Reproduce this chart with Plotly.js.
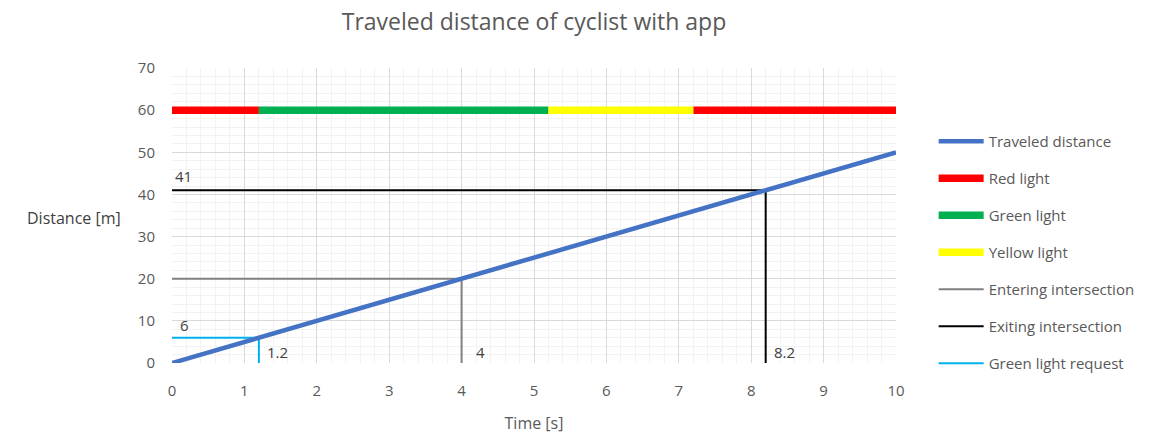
<!DOCTYPE html>
<html><head><meta charset="utf-8">
<script src="https://cdn.plot.ly/plotly-3.0.1.min.js"></script>
<style>body{margin:0;background:#fff}#chart{width:1164px;height:435px}</style>
</head><body><div id="chart"></div>
<script>
const timeTravel = [0, 10];
const distTravel = [0, 50];
const redX = [0, 1.2, null, 7.2, 10];
const redY = [60, 60, null, 60, 60];
const greenX = [1.2, 5.2];
const greenY = [60, 60];
const yellowX = [5.2, 7.2];
const yellowY = [60, 60];
const enterX = [0, 4, 4];
const enterY = [20, 20, 0];
const exitX = [0, 8.2, 8.2];
const exitY = [41, 41, 0];
const requestX = [0, 1.2, 1.2];
const requestY = [6, 6, 0];
const xTicks = [0,1,2,3,4,5,6,7,8,9,10];
const yTicks = [0,10,20,30,40,50,60,70];

const FONT = 'Open Sans, Liberation Sans, sans-serif';
const GREY = '#595959';

const traces = [
  {x: redX, y: redY, name: 'Red light', mode: 'lines', line: {color: '#ff0000', width: 7.5}, legendrank: 2, legendgroup: 'b'},
  {x: greenX, y: greenY, name: 'Green light', mode: 'lines', line: {color: '#00b050', width: 7.5}, legendrank: 3, legendgroup: 'c'},
  {x: yellowX, y: yellowY, name: 'Yellow light', mode: 'lines', line: {color: '#ffff00', width: 7.5}, legendrank: 4, legendgroup: 'd'},
  {x: enterX, y: enterY, name: 'Entering intersection', mode: 'lines', line: {color: '#808080', width: 2}, legendrank: 5, legendgroup: 'e'},
  {x: exitX, y: exitY, name: 'Exiting intersection', mode: 'lines', line: {color: '#000000', width: 2}, legendrank: 6, legendgroup: 'f'},
  {x: requestX, y: requestY, name: 'Green light request', mode: 'lines', line: {color: '#00b0f0', width: 2}, legendrank: 7, legendgroup: 'g'},
  {x: timeTravel, y: distTravel, name: 'Traveled distance', mode: 'lines', line: {color: '#4472c4', width: 4.5}, legendrank: 1, legendgroup: 'a'}
];

const annots = [
  {x: 0, y: 41, text: '41', xanchor: 'left', yanchor: 'bottom', xshift: 1, yshift: 2},
  {x: 0, y: 6, text: '6', xanchor: 'left', yanchor: 'bottom', xshift: 6, yshift: 1},
  {x: 1.2, y: 0, text: '1.2', xanchor: 'left', yanchor: 'bottom', xshift: 6, yshift: -1},
  {x: 4, y: 0, text: '4', xanchor: 'left', yanchor: 'bottom', xshift: 12, yshift: -1},
  {x: 8.2, y: 0, text: '8.2', xanchor: 'left', yanchor: 'bottom', xshift: 6, yshift: -1}
].map(a => Object.assign({xref: 'x', yref: 'y', showarrow: false, font: {family: FONT, size: 15, color: '#404040'}}, a));

annots.push({xref: 'paper', yref: 'paper', x: -0.068, y: 0.49, xanchor: 'right', yanchor: 'middle',
  text: 'Distance [m]', showarrow: false, font: {family: FONT, size: 16, color: '#404040'}});

const layout = {
  width: 1164, height: 435,
  margin: {l: 172, r: 268, t: 68, b: 72},
  paper_bgcolor: '#fff', plot_bgcolor: '#fff',
  title: {text: 'Traveled distance of cyclist with app', x: 0.5, xref: 'paper', y: 0.95, yanchor: 'middle',
    font: {family: FONT, size: 23, color: GREY}},
  xaxis: {range: [0, 10], tickvals: xTicks, ticktext: xTicks.map(String), showgrid: true, gridcolor: '#d9d9d9', gridwidth: 1,
    minor: {dtick: 0.2, showgrid: true, gridcolor: '#f2f2f2', gridwidth: 1},
    zeroline: false, showline: false, ticks: '', ticklabelstandoff: 17,
    tickfont: {family: FONT, size: 15, color: GREY},
    title: {text: 'Time [s]', font: {family: FONT, size: 16, color: GREY}, standoff: 18}},
  yaxis: {range: [0, 70], tickvals: yTicks, ticktext: yTicks.map(String), showgrid: true, gridcolor: '#d9d9d9', gridwidth: 1,
    minor: {dtick: 2, showgrid: true, gridcolor: '#f2f2f2', gridwidth: 1},
    zeroline: false, showline: false, ticks: '', ticklabelstandoff: 16,
    tickfont: {family: FONT, size: 15, color: GREY}},
  showlegend: true,
  legend: {x: 1.052, xanchor: 'left', y: 0.807, yanchor: 'top', itemwidth: 45, tracegroupgap: 14.5,
    font: {family: FONT, size: 15, color: GREY}, bgcolor: 'rgba(0,0,0,0)', itemclick: false},
  annotations: annots
};

Plotly.newPlot('chart', traces, layout, {displayModeBar: false, staticPlot: true});
</script>
</body></html>
